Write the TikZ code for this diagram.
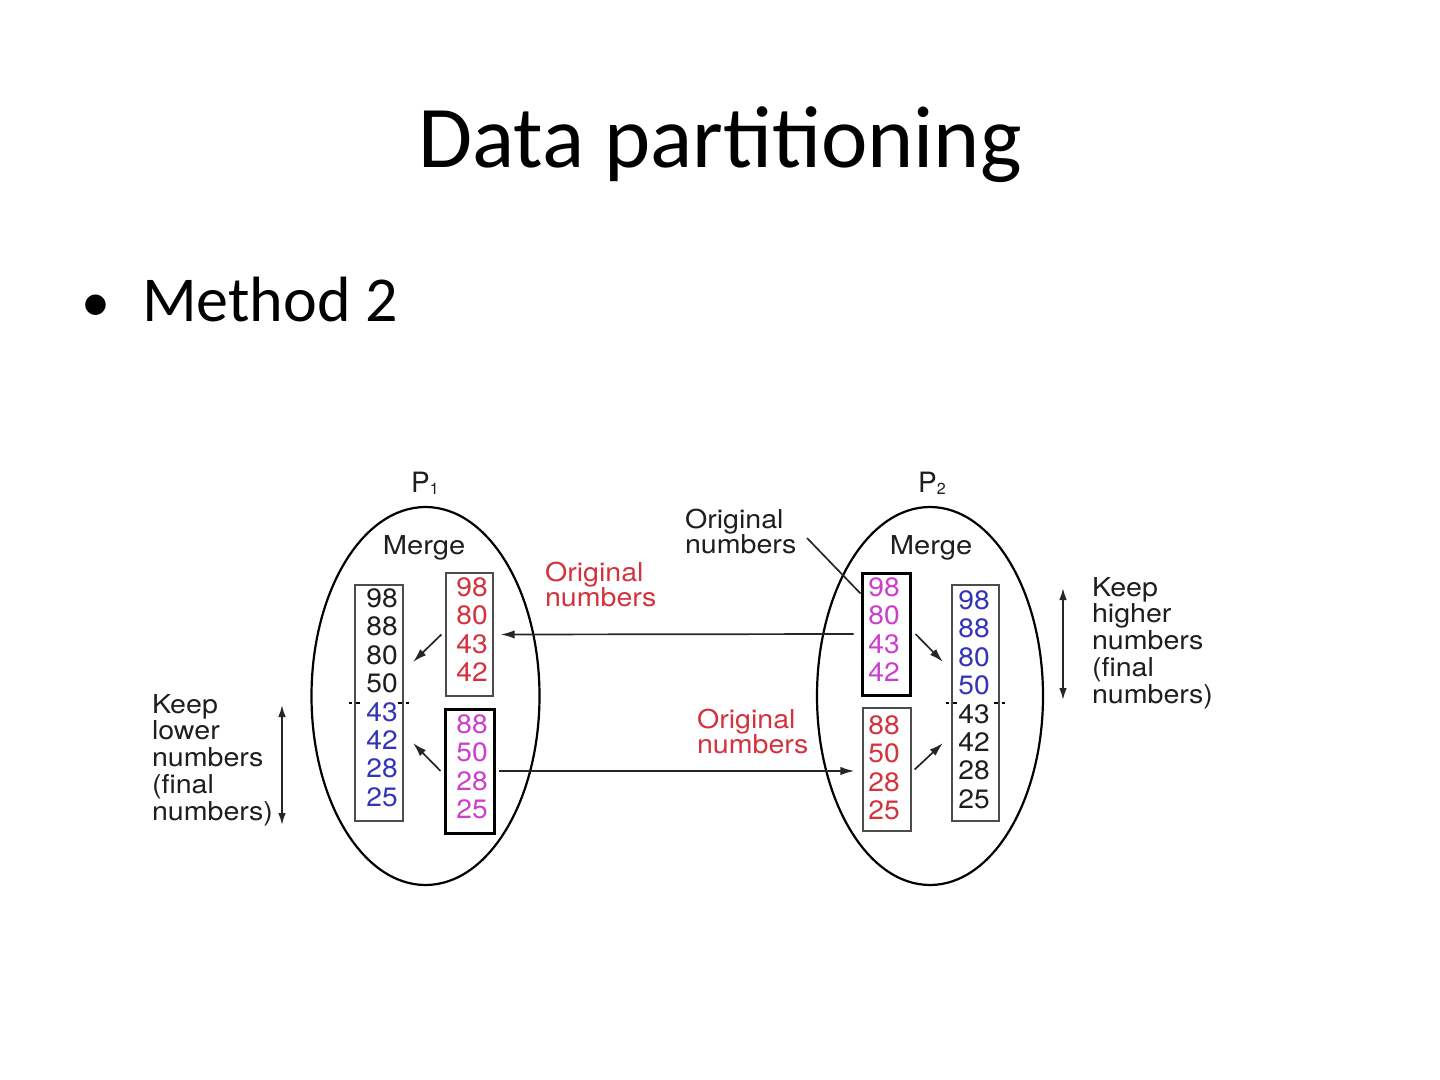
\documentclass[tikz,border=0pt]{standalone}
\usepackage{fontspec}
\setmainfont{Carlito}
\newfontfamily\hv{TeX Gyre Heros}
\usetikzlibrary{arrows.meta,shapes.geometric}
\definecolor{nred}{HTML}{D4323C}
\definecolor{nmag}{HTML}{CC3FCC}
\definecolor{nblue}{HTML}{3434B8}
\definecolor{ink}{HTML}{1E1E1E}
\newcommand\lbl[2][11.5pt]{\scalebox{1.1}[1]{\hv\fontsize{13pt}{#1}\selectfont\begin{tabular}[t]{@{}l@{}}#2\end{tabular}}}
\newcommand\nums[1]{\scalebox{1.06}[1]{\hv\fontsize{13.3pt}{14.2pt}\selectfont\begin{tabular}[t]{@{}c@{}}#1\end{tabular}}}
\newcommand\proc[1]{{\hv\fontsize{14pt}{14pt}\selectfont P\raisebox{-1pt}{\fontsize{8pt}{8pt}\selectfont #1}}}
\tikzset{
  txt/.style={inner sep=0pt, outer sep=0pt, text=ink},
  proc/.style={ellipse, draw=black, line width=1.1pt, inner sep=0pt},
  thinbox/.style={rectangle, draw=black!70, line width=0.65pt, inner sep=0pt},
  thickbox/.style={rectangle, draw=black, line width=1.5pt, inner sep=0pt},
  conn/.style={draw=black!85, line width=0.85pt},
  arr/.style={conn, -{Latex[length=7pt,width=4.2pt]}},
  darr/.style={conn, {Latex[length=6pt,width=3.8pt]}-{Latex[length=6pt,width=3.8pt]}},
  tick/.style={draw=black, line width=0.9pt}
}
\begin{document}
\begin{tikzpicture}[x=0.5pt,y=-0.5pt]
\useasboundingbox (0,0) rectangle (1440,1080);
% title and bullet
\node[txt, text=black, anchor=base] (title) at (720,168) {\fontsize{44pt}{53pt}\selectfont Data partitioning};
\node[txt, text=black, anchor=base] (bullet) at (96,322) {\fontsize{29pt}{38pt}\selectfont •};
\node[txt, text=black, anchor=base west] (method) at (142,322) {\fontsize{32pt}{38pt}\selectfont Method 2};
% processes
\node[proc, minimum width=114pt, minimum height=189pt] (e1) at (425.5,696) {};
\node[proc, minimum width=113pt, minimum height=189pt] (e2) at (930,696) {};
\node[txt, anchor=base] (p1) at (425,493) {\proc{1}};
\node[txt, anchor=base] (p2) at (932,493) {\proc{2}};
\node[txt, anchor=base] (m1) at (424,554) {\scalebox{1.12}[1]{\hv\fontsize{13pt}{13pt}\selectfont Merge}};
\node[txt, anchor=base] (m2) at (931,554) {\scalebox{1.12}[1]{\hv\fontsize{13pt}{13pt}\selectfont Merge}};
% boxes P1
\node[thinbox, minimum width=24pt, minimum height=118pt] (lf) at (379,703) {};
\node[thinbox, minimum width=23.5pt, minimum height=61.5pt] (lr) at (469.5,634.5) {};
\node[thickbox, minimum width=24.5pt, minimum height=62pt] (lm) at (469.5,771) {};
% boxes P2
\node[thickbox, minimum width=24pt, minimum height=61pt] (rm) at (886,634) {};
\node[thinbox, minimum width=24pt, minimum height=61.5pt] (rr) at (887,769.5) {};
\node[thinbox, minimum width=23.5pt, minimum height=118pt] (rf) at (975.5,703) {};
% numbers
\node[txt, anchor=base] (lfn) at (382,607.5) {\nums{\textcolor{ink}{98}\\\textcolor{ink}{88}\\\textcolor{ink}{80}\\\textcolor{ink}{50}\\\textcolor{nblue}{43}\\\textcolor{nblue}{42}\\\textcolor{nblue}{28}\\\textcolor{nblue}{25}}};
\node[txt, text=nred, anchor=base] (lrn) at (472,596.5) {\nums{98\\80\\43\\42}};
\node[txt, text=nmag, anchor=base] (lmn) at (472,733.5) {\nums{88\\50\\28\\25}};
\node[txt, text=nmag, anchor=base] (rmn) at (884,596.5) {\nums{98\\80\\43\\42}};
\node[txt, text=nred, anchor=base] (rrn) at (884,734.5) {\nums{88\\50\\28\\25}};
\node[txt, anchor=base] (rfn) at (974,609.5) {\nums{\textcolor{nblue}{98}\\\textcolor{nblue}{88}\\\textcolor{nblue}{80}\\\textcolor{nblue}{50}\\\textcolor{ink}{43}\\\textcolor{ink}{42}\\\textcolor{ink}{28}\\\textcolor{ink}{25}}};
% divider ticks
\draw[tick] ([xshift=-2.5pt]lf.west) -- ([xshift=-1pt]lf.west);
\draw[tick] ([xshift=1pt]lf.west) -- ([xshift=3pt]lf.west);
\draw[tick] ([xshift=-3pt]lf.east) -- ([xshift=-1pt]lf.east);
\draw[tick] ([xshift=1pt]lf.east) -- ([xshift=2.5pt]lf.east);
\draw[tick] ([xshift=-2.5pt]rf.west) -- ([xshift=-1pt]rf.west);
\draw[tick] ([xshift=1pt]rf.west) -- ([xshift=3pt]rf.west);
\draw[tick] ([xshift=-3pt]rf.east) -- ([xshift=-1pt]rf.east);
\draw[tick] ([xshift=1pt]rf.east) -- ([xshift=2.5pt]rf.east);
% labels
\node[txt, anchor=base west] (orig) at (685,528) {\lbl{Original\\numbers}};
\node[txt, text=nred, anchor=base west] (origr1) at (545,581) {\lbl{Original\\numbers}};
\node[txt, text=nred, anchor=base west] (origr2) at (697,728) {\lbl{Original\\numbers}};
\node[txt, anchor=base west] (keepl) at (152,713) {\lbl[13pt]{Keep\\lower\\numbers\\(final\\numbers)}};
\node[txt, anchor=base west] (keeph) at (1092,596) {\lbl[13.2pt]{Keep\\higher\\numbers\\(final\\numbers)}};
% coordinates
\coordinate (olstart) at (807,538);
\coordinate (a1e) at (413,662);
\coordinate (a2e) at (413,743);
\coordinate (a3e) at (943,662);
\coordinate (a4e) at (943,743);
\coordinate (kl1) at (282,705);
\coordinate (kl2) at (282,825);
\coordinate (kh1) at (1063,588);
\coordinate (kh2) at (1063,700);
% connectors
\draw[conn] (olstart) -- ([yshift=-11pt]rm.north west);
\draw[arr] ([xshift=-3.5pt]rm.west) -- ([xshift=3.5pt]lr.east);
\draw[arr] ([xshift=1.5pt]lm.east) -- ([xshift=-4pt]rr.west |- lm.east);
\draw[arr] ([xshift=-2pt]lr.west) -- (a1e);
\draw[arr] ([xshift=-1.5pt]lm.west) -- (a2e);
\draw[arr] ([xshift=2pt]rm.east) -- (a3e);
\draw[arr] ([xshift=1.5pt]rr.east) -- (a4e);
\draw[darr] (kl1) -- (kl2);
\draw[darr] (kh1) -- (kh2);
\end{tikzpicture}
\end{document}
